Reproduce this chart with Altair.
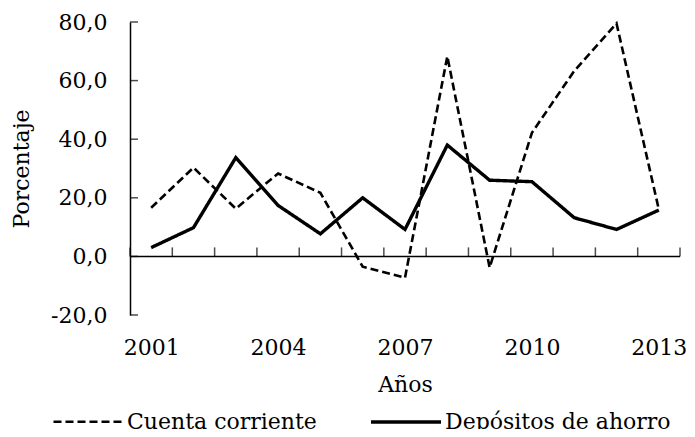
import altair as alt
import pandas as pd

years = list(range(2001, 2014))
cuenta_corriente = [16.6, 30.3, 16.3, 28.3, 21.7, -3.5, -7.3, 68.3, -3.8, 42.2, 63.3, 79.5, 16.0]
depositos_ahorro = [3.0, 9.8, 33.7, 17.4, 7.7, 20.0, 9.2, 38.0, 26.0, 25.5, 13.2, 9.2, 15.8]
series_names = ["Cuenta corriente", "Depósitos de ahorro"]
x_tick_labels = [2001, 2004, 2007, 2010, 2013]
y_ticks = [-20, 0, 20, 40, 60, 80]

FONT = "DejaVu Serif"
FS = 22

rows = []
for y, a, b in zip(years, cuenta_corriente, depositos_ahorro):
    rows.append({"anio": y, "valor": a, "serie": series_names[0]})
    rows.append({"anio": y, "valor": b, "serie": series_names[1]})
df = pd.DataFrame(rows)

# category boundaries (Excel-style ticks between categories)
bounds = [y - 0.5 for y in years] + [years[-1] + 0.5]
df_bounds = pd.DataFrame({"b": bounds})
df_yt = pd.DataFrame({"v": y_ticks})
df_zero = pd.DataFrame({"z": [0]})

xscale = alt.Scale(domain=[years[0] - 0.5, years[-1] + 0.5], nice=False, zero=False)
yscale = alt.Scale(domain=[y_ticks[0], y_ticks[-1]], nice=False, zero=False)

label_expr = "(datum.value < 0 ? '-' : '') + replace(format(abs(datum.value), '.1f'), '.', ',')"

lines = alt.Chart(df).mark_line(color="black").encode(
    x=alt.X("anio:Q", scale=xscale,
            axis=alt.Axis(values=x_tick_labels, format="d", domain=False, ticks=False,
                          tickSize=0, grid=False, labelPadding=22, title="Años",
                          titlePadding=16)),
    y=alt.Y("valor:Q", scale=yscale,
            axis=alt.Axis(values=y_ticks, labelExpr=label_expr, domain=True, ticks=False,
                          tickSize=0, grid=False, labelPadding=23, title="Porcentaje",
                          titlePadding=17)),
    strokeDash=alt.StrokeDash("serie:N",
                              scale=alt.Scale(domain=series_names, range=[[8, 4], [1, 0]]),
                              legend=alt.Legend(orient="none", legendX=-78, legendY=363,
                                                direction="horizontal", title=None,
                                                symbolType="M-1,0H1", symbolSize=4900,
                                                symbolStrokeWidth=3, symbolStrokeColor="black",
                                                labelFontSize=FS, labelFont=FONT,
                                                labelOffset=2, columnPadding=47,
                                                labelLimit=400, labelColor="black")),
    strokeWidth=alt.StrokeWidth("serie:N",
                                scale=alt.Scale(domain=series_names, range=[2.6, 3.4]),
                                legend=None),
)

zero_line = alt.Chart(df_zero).mark_rule(color="black", strokeWidth=1.5).encode(
    y=alt.Y("z:Q", scale=yscale)
)

x_ticks = alt.Chart(df_bounds).mark_tick(color="black", orient="vertical", size=9,
                                          thickness=1.5, yOffset=-4.5).encode(
    x=alt.X("b:Q", scale=xscale),
    y=alt.datum(0, scale=yscale),
)

y_tick_marks = alt.Chart(df_yt).mark_tick(color="black", orient="horizontal", size=8,
                                           thickness=1.5, xOffset=4).encode(
    y=alt.Y("v:Q", scale=yscale),
    x=alt.datum(years[0] - 0.5, scale=xscale),
)

chart = alt.layer(zero_line, x_ticks, y_tick_marks, lines).properties(
    width=550, height=293,
    background="white",
    autosize=alt.AutoSizeParams(type="none"),
    padding={"left": 122, "top": 14, "right": 7, "bottom": 114},
).configure_view(stroke=None).configure_axis(
    labelFont=FONT, labelFontSize=FS, labelColor="black",
    titleFont=FONT, titleFontSize=FS, titleFontWeight="normal", titleColor="black",
    domainColor="black", domainWidth=1.5,
)

chart.save("out.html", embed_options={"renderer": "svg", "actions": False})
